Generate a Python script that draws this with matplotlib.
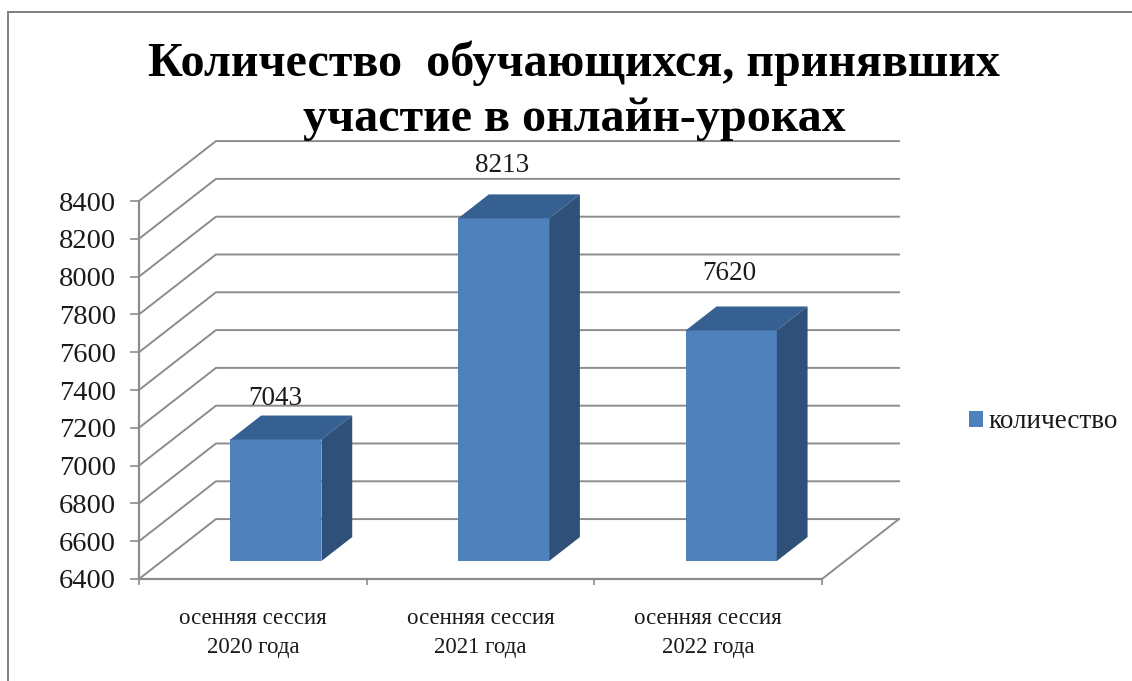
import matplotlib
matplotlib.use("Agg")
import matplotlib.pyplot as plt
from matplotlib.lines import Line2D
from matplotlib.patches import Patch, Polygon

# ── Data ─────────────────────────────────────────────────
categories = ["осенняя сессия\n2020 года", "осенняя сессия\n2021 года", "осенняя сессия\n2022 года"]
values = [7043, 8213, 7620]
y_ticks = [6400, 6600, 6800, 7000, 7200, 7400, 7600, 7800, 8000, 8200, 8400]
series_name = "количество"
title = "Количество  обучающихся, принявших\nучастие в онлайн-уроках"

# ── Style ────────────────────────────────────────────────
W, H = 1132, 681
FRONT = "#4F81BD"
TOP = "#376092"
SIDE = "#2F5078"
GRID = "#8C8C8C"
FRAME = "#7F7F7F"
INK = "#1A1A1A"
FONT = "Liberation Serif"

# oblique depth of the fake 3D box, in data units
DEPTH_X = 0.338
DEPTH_Y = 317
BAR_NEAR, BAR_FAR = 0.30, 0.70
BAR_WIDTH = 0.40

# label shift above the bar top, in pixels
label_shift = [41, 53, 57]
label_nudge = [-1, -2, -2]

plt.rcParams["font.family"] = [FONT, "DejaVu Serif"]


def px(v):
    return v * 0.72


def project(x, y, d):
    return x + d * DEPTH_X, y + d * DEPTH_Y


fig = plt.figure(figsize=(W / 100, H / 100), dpi=100, facecolor="white")
ax = fig.add_axes([139 / W, 1 - 579 / H, (822 - 139) / W, (579 - 201) / H])
ax.set_facecolor("none")
ax.set_xlim(-0.5, 2.5)
ax.set_ylim(y_ticks[0], y_ticks[-1])

x0, x1 = ax.get_xlim()
y_floor = y_ticks[0]

# ── Walls ────────────────────────────────────────────────
for t in y_ticks:
    bx, by = project(x0, t, 1)
    ex, _ = project(x1, t, 1)
    ax.plot([x0, bx, ex], [t, by, by], color=GRID, lw=1.4, clip_on=False, zorder=1,
            solid_joinstyle="miter")

fx, fy = project(x1, y_floor, 1)
ax.plot([x1, fx], [y_floor, fy], color=GRID, lw=1.4, clip_on=False, zorder=1)

# ── Bars ─────────────────────────────────────────────────
xs = list(range(len(values)))
near_shift, floor_near = project(0, y_floor, BAR_NEAR)
far_shift, floor_far = project(0, y_floor, BAR_FAR)

for i, v in enumerate(values):
    left = i - BAR_WIDTH / 2
    right = i + BAR_WIDTH / 2
    top_near = v + BAR_NEAR * DEPTH_Y
    top_far = v + BAR_FAR * DEPTH_Y

    ax.bar(i + near_shift, top_near - floor_near, BAR_WIDTH, bottom=floor_near,
           color=FRONT, linewidth=0, clip_on=False, zorder=3)
    ax.add_patch(Polygon(
        [(left + near_shift, top_near), (right + near_shift, top_near),
         (right + far_shift, top_far), (left + far_shift, top_far)],
        facecolor=TOP, edgecolor="none", clip_on=False, zorder=3))
    ax.add_patch(Polygon(
        [(right + near_shift, floor_near), (right + far_shift, floor_far),
         (right + far_shift, top_far), (right + near_shift, top_near)],
        facecolor=SIDE, edgecolor="none", clip_on=False, zorder=3))

    ax.annotate(str(v), (i + near_shift, top_near),
                xytext=(px(label_nudge[i]), px(label_shift[i])), textcoords="offset points",
                ha="center", va="center", fontsize=19.5, color=INK, zorder=4)

# ── Axes ─────────────────────────────────────────────────
for spine in ["top", "right"]:
    ax.spines[spine].set_visible(False)
for spine in ["left", "bottom"]:
    ax.spines[spine].set_color(GRID)
    ax.spines[spine].set_linewidth(1.6)

ax.set_yticks(y_ticks)
ax.tick_params(axis="y", length=px(9), width=1.2, color=GRID, labelsize=20.5,
               labelcolor=INK, pad=px(14))

ax.set_xticks([x0 + k for k in range(len(values) + 1)])
ax.set_xticklabels([])
ax.tick_params(axis="x", which="major", length=px(6), width=1.2, color=GRID)
ax.set_xticks(xs, minor=True)
ax.set_xticklabels(categories, minor=True, fontsize=16.5, color=INK, linespacing=1.48)
ax.tick_params(axis="x", which="minor", length=0, pad=px(29))

# ── Legend ───────────────────────────────────────────────
ax.legend(
    handles=[Patch(facecolor=FRONT, edgecolor="none", label=series_name)],
    loc="center left",
    bbox_to_anchor=(945 / W, 1 - 422 / H),
    bbox_transform=fig.transFigure,
    frameon=False,
    fontsize=19.5,
    handlelength=0.52,
    handleheight=0.52,
    handletextpad=0.18,
    labelcolor=INK,
)

# ── Title ────────────────────────────────────────────────
fig.text(574 / W, 1 - 91 / H, title, ha="center", va="center", fontsize=34.6,
         fontweight="bold", color="black", linespacing=1.33)

# ── Outer frame (left and top only) ──────────────────────
fig.add_artist(Line2D([8 / W, 8 / W, 1], [0, 1 - 12 / H, 1 - 12 / H],
                      color=FRAME, lw=1.4, transform=fig.transFigure,
                      solid_joinstyle="miter"))

fig.savefig("out.png", dpi=100, facecolor=fig.get_facecolor())
